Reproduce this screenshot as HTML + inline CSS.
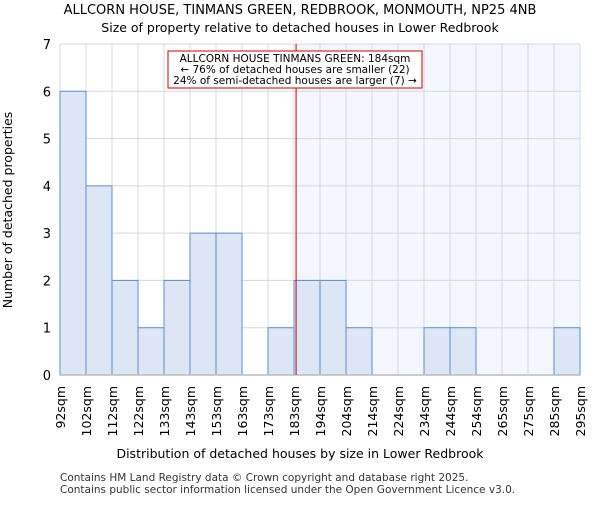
<!DOCTYPE html>
<html><head><meta charset="utf-8"><style>
body{margin:0;background:#fff;font-family:"Liberation Sans","DejaVu Sans",sans-serif}
svg text{font-family:"DejaVu Sans","Liberation Sans",sans-serif}
</style></head><body>
<svg id="c" width="600" height="500" viewBox="0 0 600 500">
<text x="300" y="14" text-anchor="middle" font-size="13">ALLCORN HOUSE, TINMANS GREEN, REDBROOK, MONMOUTH, NP25 4NB</text>
<text x="300" y="32" text-anchor="middle" font-size="12.5">Size of property relative to detached houses in Lower Redbrook</text>
<g id="plot"></g>
<text x="300" y="458" text-anchor="middle" font-size="12.5">Distribution of detached houses by size in Lower Redbrook</text>
<text transform="translate(12,210) rotate(-90)" text-anchor="middle" font-size="12.5">Number of detached properties</text>
<text x="60" y="481" font-size="10.5" fill="#333">Contains HM Land Registry data © Crown copyright and database right 2025.</text>
<text x="60" y="493" font-size="10.5" fill="#333">Contains public sector information licensed under the Open Government Licence v3.0.</text>
</svg>
<script>
const tickLabels=["92sqm","102sqm","112sqm","122sqm","133sqm","143sqm","153sqm","163sqm","173sqm","183sqm","194sqm","204sqm","214sqm","224sqm","234sqm","244sqm","254sqm","265sqm","275sqm","285sqm","295sqm"];
const counts=[6,4,2,1,2,3,3,0,1,2,2,1,0,0,1,1,0,0,0,1];
const yTicks=[0,1,2,3,4,5,6,7];
const markerBin=9.08;
const NS="http://www.w3.org/2000/svg";
const L=60,R=580,T=44,B=375,yMax=7;
const bw=(R-L)/counts.length;
const xs=i=>L+i*bw;
const ys=v=>B-(v/yMax)*(B-T);
const g=document.getElementById('plot');
function mk(t,a){const e=document.createElementNS(NS,t);for(const k in a)e.setAttribute(k,a[k]);g.appendChild(e);return e;}
const mx=xs(markerBin);
let e=mk('rect',{x:mx,y:T,width:R-mx,height:B-T,fill:'#f3f6fd'});


for(let i=0;i<=counts.length;i++){e=mk('line',{x1:xs(i),x2:xs(i),y1:T,y2:B,stroke:'#d8d8d8','stroke-width':1});

}
yTicks.forEach(v=>{e=mk('line',{x1:L,x2:R,y1:ys(v),y2:ys(v),stroke:'#d8d8d8','stroke-width':1});


e=mk('text',{x:L-9,y:ys(v)+5,'text-anchor':'end','font-size':13});e.textContent=v;

});
counts.forEach((c,i)=>{if(!c)return;e=mk('rect',{x:xs(i),y:ys(c),width:bw,height:B-ys(c),fill:'#dce6f5',stroke:'#5b8fd9','stroke-width':1});

});
e=mk('line',{x1:L,x2:R,y1:B,y2:B,stroke:'#bbb','stroke-width':1.5});


tickLabels.forEach((t,i)=>{e=mk('text',{transform:`translate(${xs(i)+5},386) rotate(-90)`,'text-anchor':'end','font-size':12.5});e.textContent=t;

});
e=mk('line',{x1:mx,x2:mx,y1:T,y2:B,stroke:'#cc0000','stroke-width':1});


e=mk('rect',{x:168,y:51,width:254,height:37,fill:'#fff',stroke:'#cc0000','stroke-width':1});


["ALLCORN HOUSE TINMANS GREEN: 184sqm","← 76% of detached houses are smaller (22)","24% of semi-detached houses are larger (7) →"].forEach((t,k)=>{
e=mk('text',{x:295,y:62+k*11,'text-anchor':'middle','font-size':10.5});e.textContent=t;

});
</script>
</body></html>
